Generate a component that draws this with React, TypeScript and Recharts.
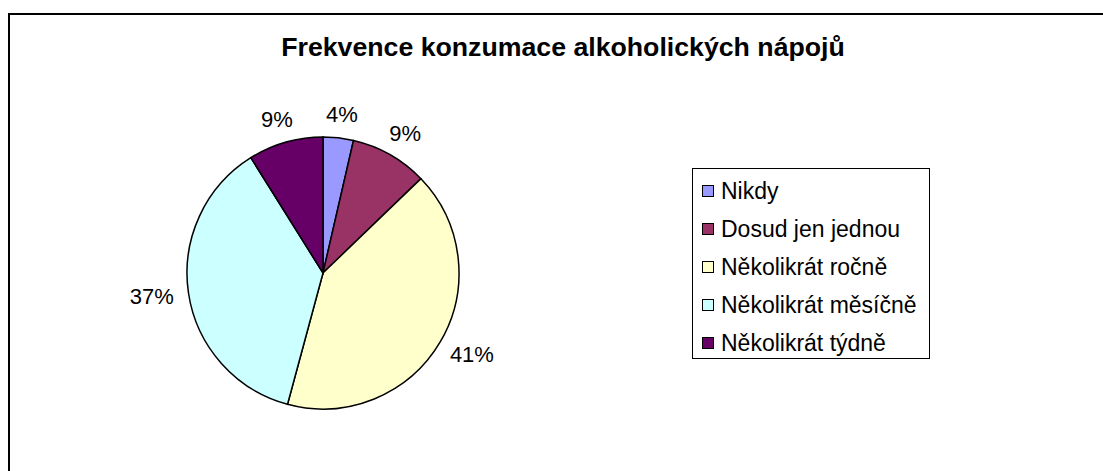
import React from "react"
import { PieChart, Pie, Cell, Legend } from "recharts"

const categories = [
  "Nikdy",
  "Dosud jen jednou",
  "Několikrát ročně",
  "Několikrát měsíčně",
  "Několikrát týdně",
]
const shares = [3.6, 9.2, 41.4, 36.9, 8.9]
const COLORS = ["#9999ff", "#993366", "#ffffcc", "#ccffff", "#660066"]

const title = "Frekvence konzumace alkoholických nápojů"
const FONT = "'Liberation Sans', Arial, sans-serif"

const data = categories.map((name, i) => ({ name, value: shares[i], color: COLORS[i] }))

const renderLabel = ({ cx, cy, midAngle, outerRadius, percent }: any) => {
  const rad = (-midAngle * Math.PI) / 180
  const dx = Math.cos(rad)
  const dy = Math.sin(rad)
  const text = `${Math.round(percent * 100)}%`
  // half size of the text box, so labels sit just outside the rim
  const hw = ((text.length - 1) * 12.2 + 19.6) / 2
  const hh = 9
  const r = outerRadius + 15
  const x = cx + r * dx + hw * dx
  const y = cy + r * dy + hh * dy
  return (
    <text
      x={x}
      y={y}
      textAnchor="middle"
      dominantBaseline="central"
      fill="#000"
      fontSize={22}
      fontFamily={FONT}
    >
      {text}
    </text>
  )
}

const LegendBox = () => (
  <div
    style={{
      border: "1.5px solid #000",
      background: "#fff",
      width: 238,
      height: 191,
      boxSizing: "border-box",
      padding: "3px 0 0 9px",
      fontFamily: FONT,
      fontSize: 23,
      color: "#000",
    }}
  >
    {data.map((d) => (
      <div key={d.name} style={{ display: "flex", alignItems: "center", height: 38, whiteSpace: "nowrap" }}>
        <span
          style={{
            display: "inline-block",
            width: 10,
            height: 10,
            background: d.color,
            border: "1px solid #000",
            marginRight: 7,
          }}
        />
        {d.name}
      </div>
    ))}
  </div>
)

export default function App() {
  return (
    <div style={{ position: "absolute", left: 0, top: 0, width: 1103, height: 471, overflow: "hidden", background: "#fff" }}>
      <div
        style={{
          position: "absolute",
          left: 8,
          top: 13,
          width: 1200,
          height: 600,
          border: "2px solid #000",
        }}
      />
      <div
        style={{
          position: "absolute",
          left: 0,
          width: 1126,
          top: 32,
          textAlign: "center",
          fontFamily: FONT,
          fontWeight: "bold",
          fontSize: 26.7,
          color: "#000",
        }}
      >
        {title}
      </div>
      <div style={{ position: "absolute", left: 0, top: 0 }}>
        <PieChart width={1103} height={471} margin={{ top: 0, right: 0, bottom: 0, left: 0 }}>
          <Pie
            data={data}
            dataKey="value"
            nameKey="name"
            cx={323}
            cy={273}
            outerRadius={136}
            startAngle={90}
            endAngle={-270}
            stroke="#000"
            strokeWidth={1.5}
            label={renderLabel}
            labelLine={false}
            isAnimationActive={false}
          >
            {data.map((entry, index) => (
              <Cell key={`cell-${index}`} fill={entry.color} />
            ))}
          </Pie>
          <Legend
            layout="vertical"
            align="right"
            verticalAlign="top"
            wrapperStyle={{ left: 692, top: 168, width: 240, right: "auto", bottom: "auto" }}
            content={<LegendBox />}
          />
        </PieChart>
      </div>
    </div>
  )
}
